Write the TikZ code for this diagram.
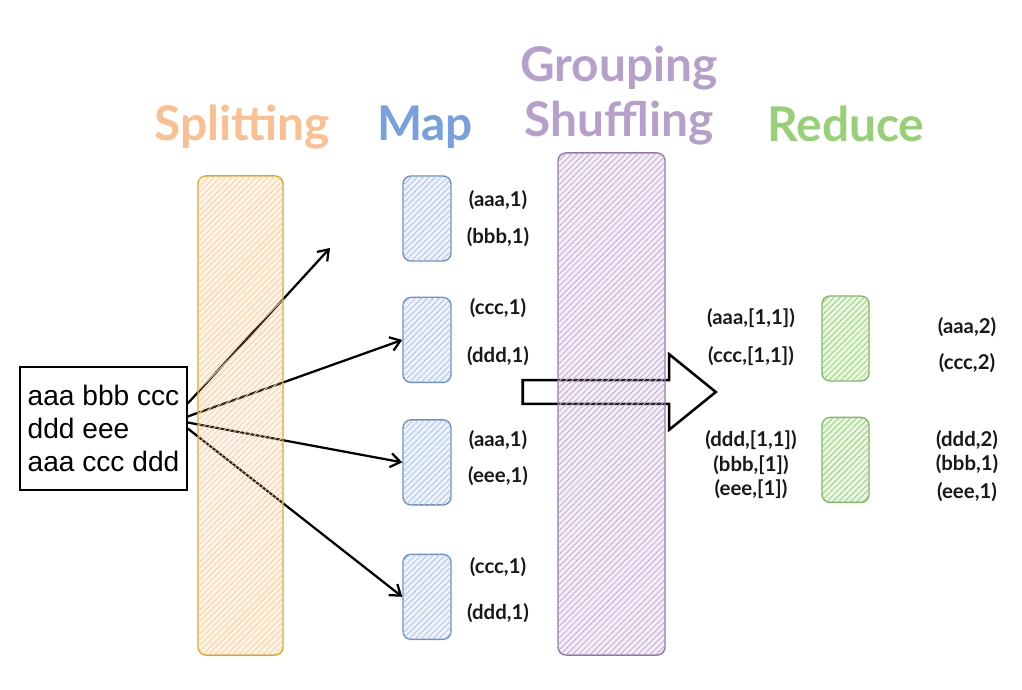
\documentclass[tikz,border=0pt]{standalone}
\usepackage{fontspec}
\setmainfont{Liberation Sans}
\newfontfamily\sketchfont{Lato}
\usetikzlibrary{shapes.arrows,arrows.meta,positioning,patterns.meta}
\definecolor{splitLine}{RGB}{215,165,40}
\definecolor{splitFill}{RGB}{255,204,153}
\definecolor{splitText}{RGB}{250,192,145}
\definecolor{mapLine}{RGB}{108,142,191}
\definecolor{mapFill}{RGB}{169,196,235}
\definecolor{mapText}{RGB}{120,160,222}
\definecolor{groupLine}{RGB}{150,115,166}
\definecolor{groupFill}{RGB}{195,171,208}
\definecolor{groupText}{RGB}{181,160,204}
\definecolor{redLine}{RGB}{130,179,102}
\definecolor{redFill}{RGB}{151,208,119}
\definecolor{redText}{RGB}{151,208,119}

\begin{document}
\begin{tikzpicture}[
    x=0.025cm, y=-0.025cm,
    hatch/.style={rounded corners=0.2cm, line width=1pt, fill=#1, fill opacity=0.2,
        postaction={fill opacity=0.6, pattern={Lines[angle=45,distance=3pt,line width=0.6pt]}, pattern color=#1}},
    column/.style={hatch=#1, minimum width=2.125cm, minimum height=11.975cm, inner sep=0pt},
    mapbox/.style={hatch=mapFill, draw=mapLine, minimum width=1.2cm, minimum height=2.125cm, inner sep=0pt},
    redbox/.style={hatch=redFill, draw=redLine, minimum width=1.175cm, minimum height=2.125cm, inner sep=0pt},
    title/.style={font=\sketchfont\bfseries\fontsize{34}{40}\selectfont, anchor=base},
    kv/.style={font=\sketchfont\bfseries\fontsize{14.5}{17}\selectfont, text=black!90},
    arrow/.style={-{Straight Barb[length=7pt,width=10pt]}, line width=1.6pt},
    bigarrow/.style={single arrow, draw, line width=1.8pt, minimum height=4.825cm,
        inner xsep=0pt, inner ysep=0.2625cm, text height=0pt, text depth=0pt,
        single arrow head extend=0.65cm, single arrow tip angle=78}
]
    \useasboundingbox (0,0) rectangle (1022,690);

    % titles
    \node[title, text=splitText] (splitTitle) at (242,141) {Splitting};
    \node[title, text=mapText] (mapTitle) at (425,141) {Map};
    \node[title, text=groupText] (groupTitle) at (619,82) {Grouping};
    \node[title, text=groupText] (shuffleTitle) at (619,137) {Shuffling};
    \node[title, text=redText] (redTitle) at (846,142) {Reduce};

    % input
    \node[draw, line width=1pt, align=left, font=\fontsize{20}{23.4}\selectfont,
        minimum width=4.175cm, minimum height=3.075cm, inner xsep=4pt] (input) at (103.5,428.5)
        {aaa bbb ccc\\ddd eee\\aaa ccc ddd};

    % map
    \node[mapbox] (m1) at (427,218.5) {};
    \node[mapbox, below=0.875cm of m1] (m2) {};
    \node[mapbox, below=0.9cm of m2] (m3) {};
    \node[mapbox, below=1.2cm of m3] (m4) {};
    \coordinate (tip1) at (330,248);

    \draw[arrow] ([yshift=0.625cm]input.east) -- (tip1);
    \draw[arrow] ([yshift=0.3cm]input.east) -- (m2.west);
    \draw[arrow] ([yshift=0.15cm]input.east) -- (m3.west);
    \draw[arrow] (input.east) -- (m4.west);

    \node[kv] (mk1) at (498,200) {(aaa,1)};
    \node[kv] (mk2) at (498,237) {(bbb,1)};
    \node[kv] (mk3) at (498,308) {(ccc,1)};
    \node[kv] (mk4) at (498,356) {(ddd,1)};
    \node[kv] (mk5) at (498,440) {(aaa,1)};
    \node[kv] (mk6) at (498,476) {(eee,1)};
    \node[kv] (mk7) at (498,567) {(ccc,1)};
    \node[kv] (mk8) at (498,613) {(ddd,1)};

    % shuffle arrow, under the column
    \node[bigarrow] (shift) at (612,392) {};

    % columns
    \node[column=splitFill, draw=splitLine] (split) at (240.5,415.5) {};
    \node[column=groupFill, draw=groupLine, minimum width=2.675cm, minimum height=12.55cm] (group) at (611.5,404) {};

    % reduce
    \node[redbox] (r1) at (845.5,338.5) {};
    \node[redbox, below=0.875cm of r1] (r2) {};

    \node[kv] (gk1) at (751,318) {(aaa,[1,1])};
    \node[kv] (gk2) at (751,356) {(ccc,[1,1])};
    \node[kv] (gk3) at (751,440) {(ddd,[1,1])};
    \node[kv] (gk4) at (751,465) {(bbb,[1])};
    \node[kv] (gk5) at (751,489) {(eee,[1])};

    \node[kv] (rk1) at (967,327) {(aaa,2)};
    \node[kv] (rk2) at (967,363) {(ccc,2)};
    \node[kv] (rk3) at (967,440) {(ddd,2)};
    \node[kv] (rk4) at (967,464) {(bbb,1)};
    \node[kv] (rk5) at (967,492) {(eee,1)};
\end{tikzpicture}
\end{document}
